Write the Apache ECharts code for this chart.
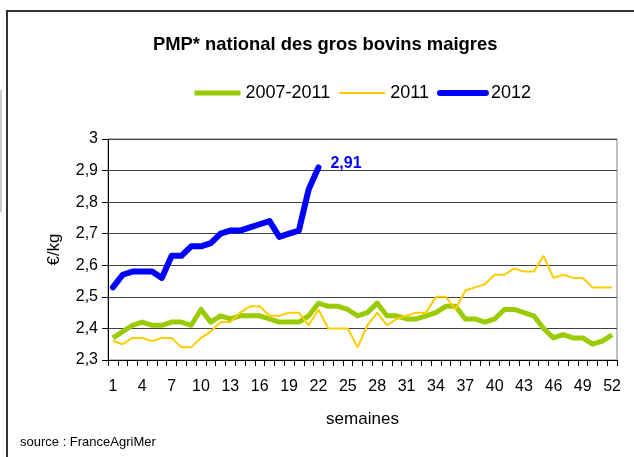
<!DOCTYPE html>
<html>
<head>
<meta charset="utf-8">
<script src="https://cdn.jsdelivr.net/npm/echarts@6/dist/echarts.min.js"></script>
<style>
html,body{margin:0;padding:0;background:#fff;}
#c{width:634px;height:457px;}
</style>
</head>
<body>
<div id="c"></div>
<script>
const weeks = Array.from({length: 52}, (_, i) => String(i + 1));
const avg20072011 = [2.37,2.39,2.41,2.42,2.41,2.41,2.42,2.42,2.41,2.46,2.42,2.44,2.43,2.44,2.44,2.44,2.43,2.42,2.42,2.42,2.44,2.48,2.47,2.47,2.46,2.44,2.45,2.48,2.44,2.44,2.43,2.43,2.44,2.45,2.47,2.47,2.43,2.43,2.42,2.43,2.46,2.46,2.45,2.44,2.40,2.37,2.38,2.37,2.37,2.35,2.36,2.38];
const y2011 = [2.36,2.35,2.37,2.37,2.36,2.37,2.37,2.34,2.34,2.37,2.39,2.42,2.42,2.45,2.47,2.47,2.44,2.44,2.45,2.45,2.41,2.46,2.40,2.40,2.40,2.34,2.41,2.45,2.41,2.43,2.44,2.45,2.45,2.50,2.50,2.46,2.52,2.53,2.54,2.57,2.57,2.59,2.58,2.58,2.63,2.56,2.57,2.56,2.56,2.53,2.53,2.53];
const y2012 = [2.53,2.57,2.58,2.58,2.58,2.56,2.63,2.63,2.66,2.66,2.67,2.70,2.71,2.71,2.72,2.73,2.74,2.69,2.70,2.71,2.84,2.91];
const seriesNames = ['2007-2011', '2011', '2012'];
const yTicks = {min: 2.3, max: 3, interval: 0.1};

const FONT = '"Liberation Sans", Arial, sans-serif';
const chart = echarts.init(document.getElementById('c'), null, {renderer: 'canvas'});
const fmt = v => String(Math.round(v * 10) / 10).replace('.', ',');

chart.setOption({
  backgroundColor: '#fff',
  animation: false,
  title: {
    text: 'PMP* national des gros bovins maigres',
    left: 153, top: 36, padding: 0,
    textStyle: {fontFamily: FONT, fontSize: 18.4, fontWeight: 'bold', color: '#000'}
  },
  legend: {
    left: 192, top: 84, padding: 0,
    itemWidth: 46, itemHeight: 10, itemGap: 8,
    textStyle: {fontFamily: FONT, fontSize: 18, color: '#000'},
    data: [
      {name: seriesNames[0], lineStyle: {width: 5, color: '#99cc00'}, itemStyle: {opacity: 0}},
      {name: seriesNames[1], lineStyle: {width: 2, color: '#ffcc00'}, itemStyle: {opacity: 0}},
      {name: seriesNames[2], lineStyle: {width: 6, color: '#0000ff', cap: 'round'}, itemStyle: {opacity: 0}}
    ]
  },
  grid: {left: 108, top: 139, width: 509, height: 221, show: true, borderColor: '#808080', borderWidth: 1},
  xAxis: {
    type: 'category', data: weeks, boundaryGap: true,
    name: 'semaines', nameLocation: 'middle', nameGap: 51,
    nameTextStyle: {fontFamily: FONT, fontSize: 17, color: '#000'},
    axisLine: {show: true, onZero: false, lineStyle: {color: '#000', width: 1}},
    axisTick: {show: true, inside: false, interval: 0, length: 6, lineStyle: {color: '#000', width: 1}},
    axisLabel: {interval: 2, margin: 19, fontFamily: FONT, fontSize: 16, color: '#000'},
    splitLine: {show: false}
  },
  yAxis: {
    type: 'value', min: yTicks.min, max: yTicks.max, interval: yTicks.interval,
    name: '€/kg', nameLocation: 'middle', nameGap: 45, nameRotate: 90,
    nameTextStyle: {fontFamily: FONT, fontSize: 17, color: '#000'},
    axisLine: {show: true, lineStyle: {color: '#000', width: 1}},
    axisTick: {show: true, inside: false, length: 6, lineStyle: {color: '#000', width: 1}},
    axisLabel: {margin: 10, fontFamily: FONT, fontSize: 16, color: '#000', formatter: fmt},
    splitLine: {show: true, lineStyle: {color: '#404040', width: 1}}
  },
  series: [
    {name: seriesNames[0], type: 'line', data: avg20072011, symbol: 'none',
     lineStyle: {color: '#99cc00', width: 5, join: 'round'}, itemStyle: {color: '#99cc00'}},
    {name: seriesNames[1], type: 'line', data: y2011, symbol: 'none',
     lineStyle: {color: '#ffcc00', width: 2}, itemStyle: {color: '#ffcc00'}},
    {name: seriesNames[2], type: 'line', data: y2012, symbol: 'none',
     lineStyle: {color: '#0000ff', width: 6, cap: 'round', join: 'round'}, itemStyle: {color: '#0000ff'},
     endLabel: {show: true, distance: 12, offset: [0, -4], fontFamily: FONT, fontSize: 16, fontWeight: 'bold', color: '#0000ff',
       formatter: p => String(p.value.toFixed(2)).replace('.', ',')}}
  ],
  graphic: [
    {type: 'line', shape: {x1: 7, y1: 11, x2: 7, y2: 457}, style: {stroke: '#333', lineWidth: 2}, silent: true},
    {type: 'line', shape: {x1: 6, y1: 11, x2: 634, y2: 11}, style: {stroke: '#333', lineWidth: 2}, silent: true},
    {type: 'rect', shape: {x: 0, y: 90, width: 2, height: 122}, style: {fill: '#cccccc'}, silent: true},
    {type: 'text', left: 20, top: 436, style: {text: 'source : FranceAgriMer', fontFamily: FONT, fontSize: 13, fill: '#000'}, silent: true}
  ]
});
</script>
</body>
</html>
